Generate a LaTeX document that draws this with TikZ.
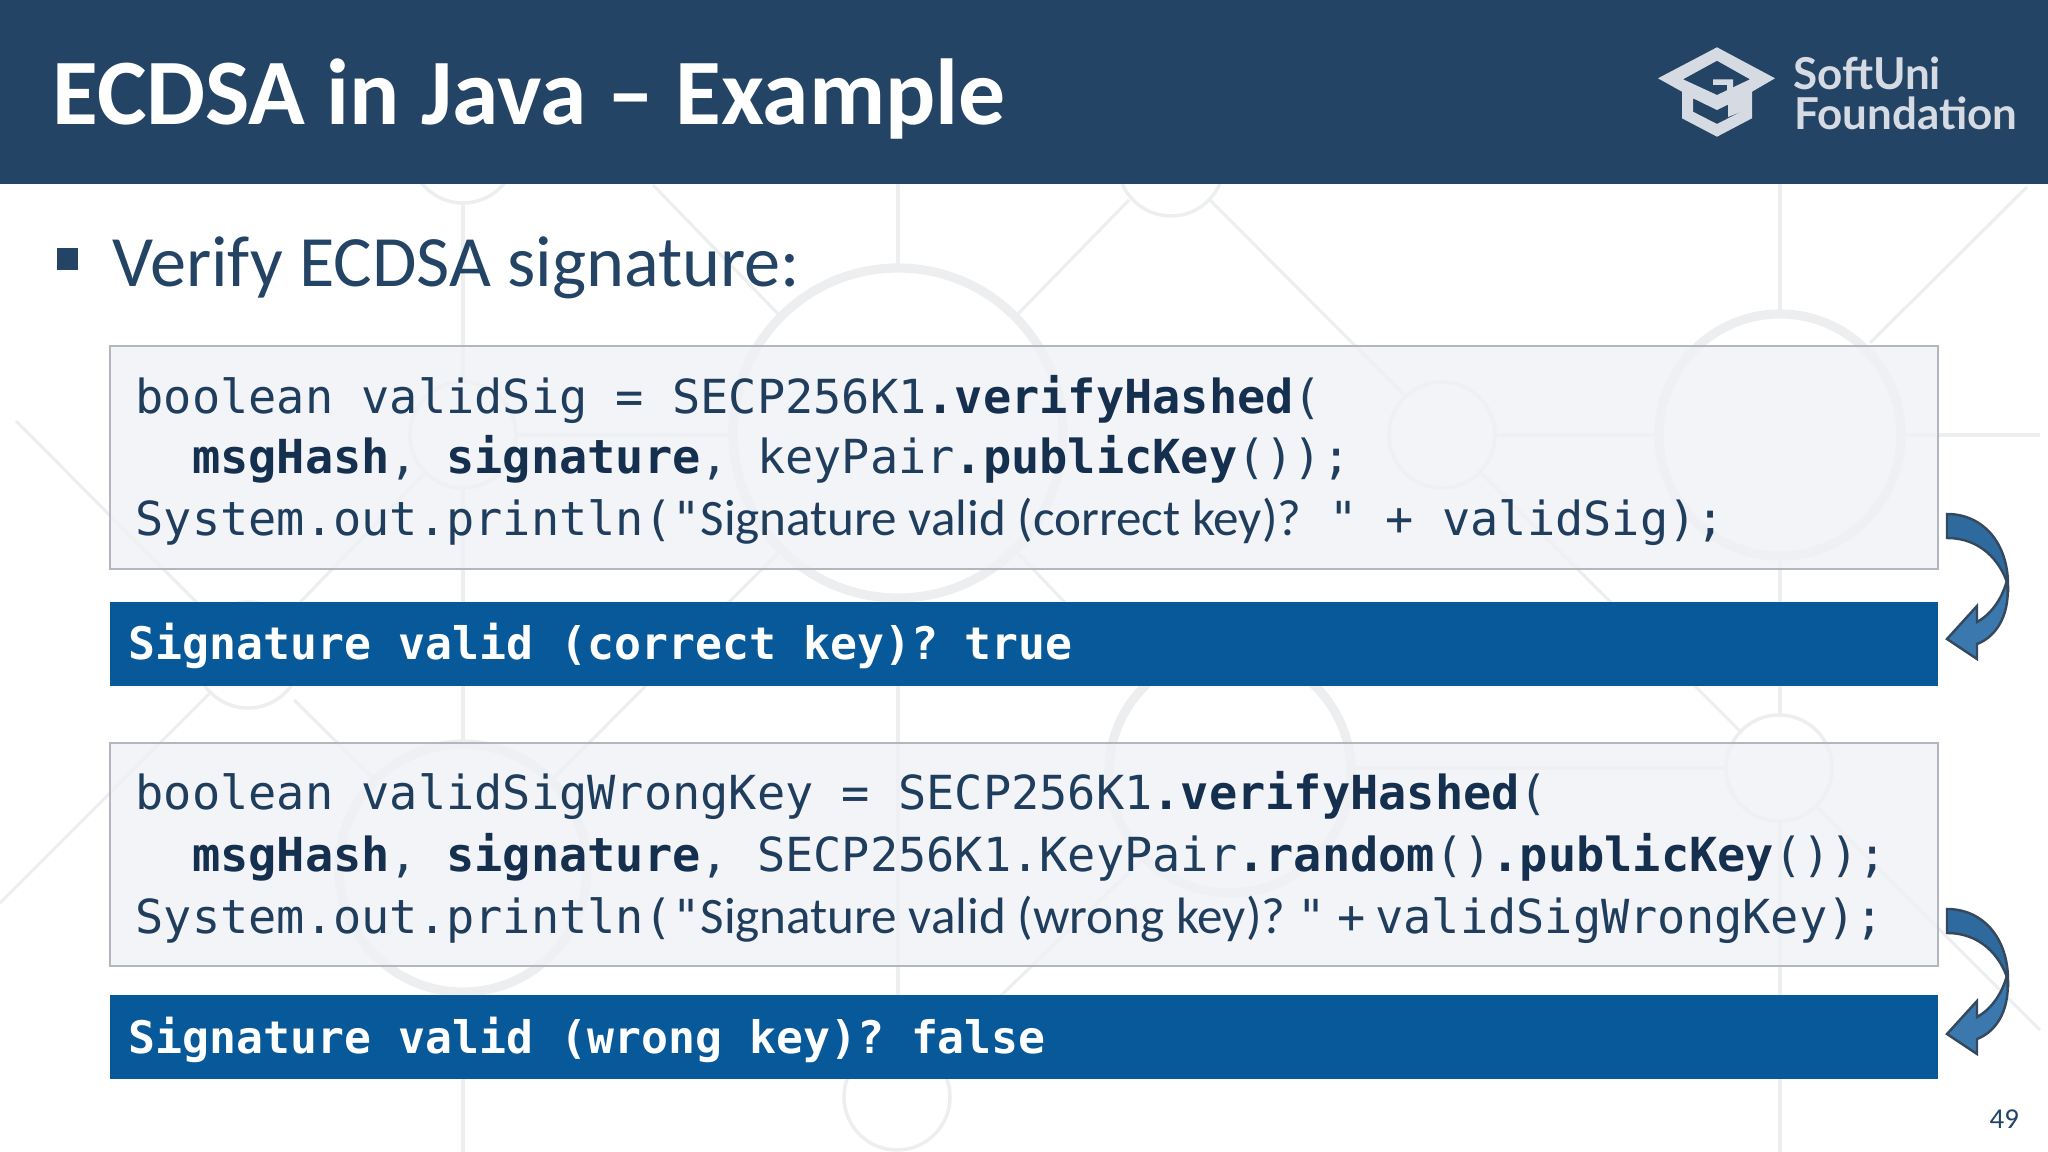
\documentclass[tikz,border=0pt]{standalone}
\usepackage{fontspec}
\setmainfont{Carlito}
\setmonofont{DejaVu Sans Mono}
\newfontfamily\logofont{Lato}
\usetikzlibrary{positioning}
\definecolor{navy}{HTML}{234465}
\definecolor{codeink}{HTML}{1F3D5C}
\definecolor{codebold}{HTML}{14304E}
\definecolor{outblue}{HTML}{07599A}
\definecolor{paneFill}{HTML}{F0F1F5}
\definecolor{paneEdge}{HTML}{B4B6BE}
\definecolor{ghost}{HTML}{EDEEF0}
\definecolor{logoInk}{HTML}{D6DBE3}
\definecolor{arrowUp}{HTML}{2F6A9E}
\definecolor{arrowDown}{HTML}{3A78AE}
\definecolor{arrowEdge}{HTML}{34495E}
\newcommand{\code}{\fontsize{13.35}{16}\selectfont\ttfamily}
\newcommand{\kw}[1]{{\bfseries\color{codebold}#1}}
\newcommand{\sig}[1]{{\fontsize{14.55}{16}\selectfont\rmfamily #1}}
\tikzset{
  codepane/.style={draw=paneEdge, line width=0.5pt, fill=paneFill, fill opacity=0.82, text opacity=1,
    anchor=north west, minimum width=18.28cm, minimum height=2.23cm, inner sep=0pt},
  outpane/.style={draw=none, fill=outblue, anchor=north west, minimum width=18.28cm,
    minimum height=0.84cm, inner sep=0pt},
  codeline/.style={anchor=base west, inner sep=0pt, text=codeink, font=\code},
  outline/.style={anchor=base west, inner sep=0pt, text=white, font=\fontsize{12.75}{16}\selectfont\ttfamily\bfseries},
  ghostline/.style={draw=ghost, line width=0.9pt},
  ghostthin/.style={draw=ghost, line width=1pt},
  ghostthick/.style={draw=ghost, line width=2.6pt},
}
\begin{document}
\begin{tikzpicture}[x=1cm, y=-1cm]
 \useasboundingbox (0,0) rectangle (20.48,11.52);

 %background
 \foreach \cx/\cy in {4.63/1.50, 11.71/1.63, 4.63/4.35, 14.42/4.35, 2.48/6.55, 17.79/7.68, 8.97/10.97} {
   \draw[ghostthin] (\cx,\cy) circle (0.53);
 }
 \foreach \cx/\cy/\r in {8.98/4.33/1.65, 17.80/4.35/1.21, 4.63/8.68/1.24, 12.30/7.72/1.21} {
   \draw[ghostthick] (\cx,\cy) circle (\r);
 }
 \foreach \ax/\ay/\bx/\by in {
   4.63/2.03/4.63/3.83, 4.63/4.87/4.63/7.44, 4.63/9.92/4.63/11.52,
   8.98/1.84/8.98/2.68, 8.98/5.98/8.98/10.43,
   17.80/1.84/17.80/3.14, 17.80/5.56/17.80/7.15, 17.80/8.21/17.80/11.52,
   5.16/4.35/7.33/4.35, 14.95/4.35/16.59/4.35, 19.01/4.35/20.40/4.35, 13.51/7.68/17.26/7.68,
   6.53/1.85/7.81/3.17, 10.15/3.17/11.29/2.00, 12.10/2.00/14.06/3.97,
   14.81/4.73/17.42/7.33, 18.18/8.08/20.40/10.30, 20.27/1.87/18.70/3.43,
   0.16/4.21/2.12/6.18, 4.26/4.72/2.85/6.18, 2.11/6.92/0/9.03, 2.94/7.00/3.76/7.81,
   7.81/5.50/5.51/7.81, 10.15/5.50/11.44/6.86, 11.44/8.58/9.35/10.59
 } {
   \draw[ghostline] (\ax,\ay) -- (\bx,\by);
 }

 %header
 \fill[navy] (0,0) rectangle (20.48,1.84);
 \node[anchor=base west, inner sep=0pt, text=white, font=\fontsize{26.66}{30}\selectfont\bfseries] (title) at (0.52,1.25) {ECDSA in Java – Example};

 %logo
 \fill[logoInk, even odd rule]
   (16.58,0.783) -- (17.17,0.473) -- (17.75,0.783) -- (17.52,0.917) -- (17.52,1.183) -- (17.17,1.367) -- (16.82,1.183) -- (16.82,0.917) -- cycle
   (16.83,0.793) -- (17.17,0.607) -- (17.50,0.793) -- (17.17,0.950) -- cycle
   (16.93,0.983) -- (17.17,1.100) -- (17.41,0.983) -- (17.41,1.117) -- (17.17,1.240) -- (16.93,1.117) -- cycle;
 \fill[logoInk] (17.13,0.793) -- (17.33,0.793) -- (17.33,0.907) -- (17.27,0.907) -- (17.27,0.85) -- (17.13,0.85) -- cycle;
 \fill[logoInk] (17.28,1.02) -- (17.41,0.96) -- (17.41,1.12) -- (17.28,1.17) -- cycle;
 \node[anchor=base west, inner sep=0pt, text=logoInk, font=\fontsize{12.5}{14}\selectfont\logofont\bfseries] (softuni) at (17.93,0.895) {SoftUni};
 \node[anchor=base west, inner sep=0pt, text=logoInk, font=\fontsize{12.5}{14}\selectfont\logofont\bfseries] (foundation) at (17.94,1.295) {Foundation};

 %bullet
 \fill[navy] (0.57,2.48) rectangle (0.78,2.70);
 \node[anchor=base west, inner sep=0pt, text=navy, font=\fontsize{20.57}{24}\selectfont] (head) at (1.12,2.87) {Verify ECDSA signature:};

 %first block
 \node[codepane] (codeA) at (1.09,3.45) {};
 \node[codeline] (lineAa) at (1.35,4.135) {boolean validSig = SECP256K1\kw{.verifyHashed}(};
 \node[codeline] (lineAb) at (1.35,4.74) {\phantom{ww}\kw{msgHash}, \kw{signature}, keyPair\kw{.publicKey}());};
 \node[codeline] (lineAc) at (1.35,5.35) {System.out.println("\sig{Signature valid (correct key)?} " + validSig);};
 \node[outpane] (outA) at (1.09,6.01) {};
 \node[outline] (textA) at (1.28,6.60) {Signature valid (correct key)? true};

 %second block
 \node[codepane] (codeB) at (1.09,7.42) {};
 \node[codeline] (lineBa) at (1.35,8.10) {boolean validSigWrongKey = SECP256K1\kw{.verifyHashed}(};
 \node[codeline] (lineBb) at (1.35,8.71) {\phantom{ww}\kw{msgHash}, \kw{signature}, SECP256K1.KeyPair\kw{.random}()\kw{.publicKey}());};
 \node[codeline] (lineBc) at (1.35,9.335) {System.out.println("\sig{Signature valid (wrong key)?}\hspace{0.12cm}"\hspace{0.115cm}+\hspace{0.10cm}validSigWrongKey);};
 \node[outpane] (outB) at (1.09,9.94) {};
 \node[outline] (textB) at (1.28,10.53) {Signature valid (wrong key)? false};

 %curved arrows
 \foreach \dy in {0,3.95} {
   \draw[arrowEdge, line width=0.7pt, fill=arrowDown, line join=miter]
     (20.07,5.80+\dy) .. controls (20.11,6.12+\dy) and (19.98,6.36+\dy) .. (19.77,6.44+\dy)
     -- (19.77,6.59+\dy) -- (19.47,6.39+\dy) -- (19.77,6.06+\dy) -- (19.77,6.22+\dy)
     .. controls (19.90,6.15+\dy) and (20.02,6.00+\dy) .. (20.07,5.80+\dy) -- cycle;
   \draw[arrowEdge, line width=0.7pt, fill=arrowUp, line join=miter]
     (19.47,5.14+\dy) .. controls (19.82,5.14+\dy) and (20.08,5.42+\dy) .. (20.08,5.85+\dy)
     .. controls (20.00,5.60+\dy) and (19.80,5.38+\dy) .. (19.47,5.38+\dy) -- cycle;
 }

 \node[anchor=base west, inner sep=0pt, text=navy, font=\fontsize{8.2}{10}\selectfont] (pagenum) at (19.89,11.28) {49};
\end{tikzpicture}
\end{document}
